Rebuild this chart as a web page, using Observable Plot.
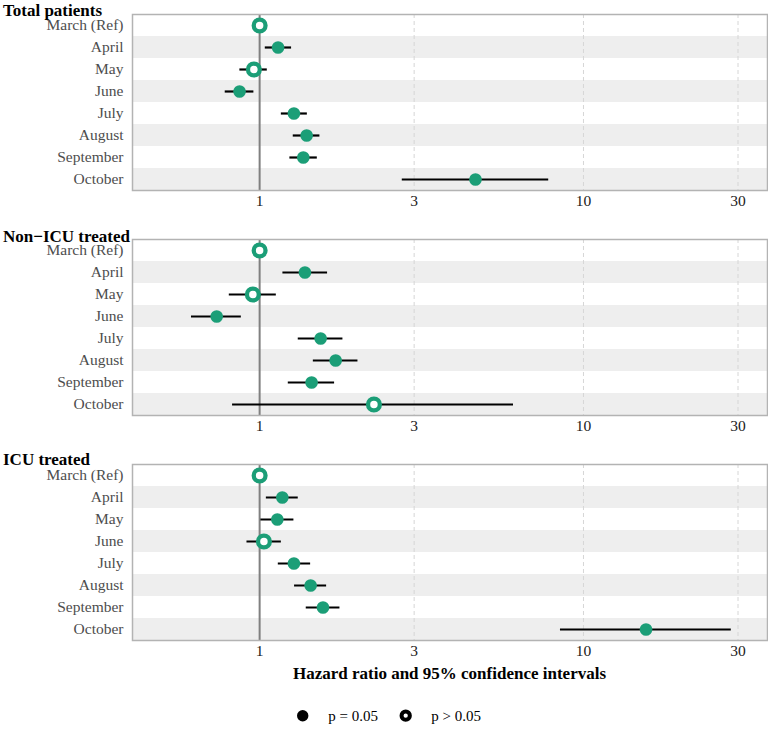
<!DOCTYPE html>
<html><head><meta charset="utf-8">
<script src="https://cdn.jsdelivr.net/npm/d3@7"></script>
<script src="https://cdn.jsdelivr.net/npm/@observablehq/plot@0.6"></script>
<style>
body{margin:0;background:#fff;}
#wrap{position:relative;width:768px;height:731px;font-family:"Liberation Serif","Times New Roman",serif;overflow:hidden;}
.title{position:absolute;left:3px;font-weight:bold;font-size:17px;line-height:17px;color:#000;white-space:nowrap;}
.panel{position:absolute;left:0;}
#xlab{position:absolute;left:0;width:899px;text-align:center;font-weight:bold;font-size:17px;line-height:17px;color:#000;white-space:nowrap;}
#legend{position:absolute;left:0;top:700px;}
</style></head><body><div id="wrap"></div>
<script>
const months = ["March (Ref)","April","May","June","July","August","September","October"];
const panelTitles = ["Total patients","Non\u2212ICU treated","ICU treated"];
const xTicks = [1,3,10,30];

// Total patients
const totalHR  = [1, 1.14, 0.96, 0.867, 1.276, 1.397, 1.364, 4.64];
const totalLo  = [null, 1.041, 0.869, 0.783, 1.167, 1.270, 1.240, 2.757];
const totalHi  = [null, 1.255, 1.056, 0.960, 1.404, 1.535, 1.507, 7.81];
const totalSig = [false, true, false, true, true, true, true, true];

// Non-ICU treated
const nonIcuHR  = [1, 1.380, 0.953, 0.737, 1.543, 1.717, 1.447, 2.254];
const nonIcuLo  = [null, 1.180, 0.806, 0.616, 1.316, 1.465, 1.226, 0.825];
const nonIcuHi  = [null, 1.621, 1.126, 0.878, 1.808, 2.012, 1.704, 6.08];
const nonIcuSig = [false, true, false, true, true, true, true, false];

// ICU treated
const icuHR  = [1, 1.175, 1.134, 1.031, 1.276, 1.437, 1.569, 15.6];
const icuLo  = [null, 1.049, 1.009, 0.914, 1.142, 1.282, 1.393, 8.49];
const icuHi  = [null, 1.316, 1.276, 1.167, 1.437, 1.610, 1.770, 28.6];
const icuSig = [false, true, true, false, true, true, true, true];

const series = [
  [totalHR, totalLo, totalHi, totalSig],
  [nonIcuHR, nonIcuLo, nonIcuHi, nonIcuSig],
  [icuHR, icuLo, icuHi, icuSig]
];

const green = "#1b9e77";
const wrap = document.getElementById("wrap");
const svgTops = [0, 225, 450];
const titleTops = [1.5, 227.5, 451];

series.forEach(([hr, lo, hi, sig], p) => {
  const rows = months.map((m, i) => ({month: m, idx: i, hr: hr[i], lo: lo[i], hi: hi[i], sig: sig[i]}));
  const shaded = rows.filter(d => d.idx % 2 === 1);
  const ci = rows.filter(d => d.lo != null);
  const chart = Plot.plot({
    width: 768,
    height: 220,
    marginTop: 14,
    marginBottom: 30,
    marginLeft: 132,
    marginRight: 1,
    style: {fontFamily: "'Liberation Serif', 'Times New Roman', serif", background: "transparent"},
    x: {type: "log", domain: [0.405, 37], label: null},
    y: {type: "band", domain: months, padding: 0, label: null},
    marks: [
      Plot.cell(shaded, {y: "month", fill: "#eeeeee", inset: 0}),
      Plot.ruleX(xTicks.slice(1), {stroke: "#d6d6d6", strokeWidth: 1, strokeDasharray: "4,3"}),
      Plot.ruleX([1], {stroke: "#808080", strokeWidth: 2}),
      Plot.frame({stroke: "#b3b3b3", strokeWidth: 1.5}),
      Plot.ruleY(ci, {y: "month", x1: "lo", x2: "hi", stroke: "#000", strokeWidth: 2.2}),
      Plot.dot(rows.filter(d => d.sig), {x: "hr", y: "month", r: 6.3, fill: green, stroke: "none"}),
      Plot.dot(rows.filter(d => !d.sig), {x: "hr", y: "month", r: 5.9, fill: "#fff", stroke: green, strokeWidth: 4.3}),
      Plot.axisY({tickSize: 0, tickPadding: 9, fontSize: 15.5, color: "#4d4d4d", label: null}),
      Plot.axisX(xTicks, {tickSize: 0, tickPadding: 4.5, fontSize: 15.5, color: "#1a1a1a", tickFormat: d => String(d), label: null})
    ]
  });
  const div = document.createElement("div");
  div.className = "panel";
  div.style.top = svgTops[p] + "px";
  div.appendChild(chart);
  wrap.appendChild(div);
  const t = document.createElement("div");
  t.className = "title";
  t.style.top = titleTops[p] + "px";
  t.textContent = panelTitles[p];
  wrap.appendChild(t);
});

const xl = document.createElement("div");
xl.id = "xlab";
xl.style.top = "664.7px";
xl.textContent = "Hazard ratio and 95% confidence intervals";
wrap.appendChild(xl);

// legend
const legendItems = [{label: "p = 0.05", sig: true}, {label: "p > 0.05", sig: false}];
const ns = "http://www.w3.org/2000/svg";
const lg = document.createElementNS(ns, "svg");
lg.setAttribute("width", 768); lg.setAttribute("height", 31);
lg.id = "legend";
const lx = [302.7, 405.7];
legendItems.forEach((it, i) => {
  const c = document.createElementNS(ns, "circle");
  c.setAttribute("cx", lx[i]); c.setAttribute("cy", 15.7);
  if (it.sig) { c.setAttribute("r", 5.7); c.setAttribute("fill", "#000"); }
  else { c.setAttribute("r", 4.15); c.setAttribute("fill", "#fff"); c.setAttribute("stroke", "#000"); c.setAttribute("stroke-width", 4); }
  lg.appendChild(c);
  const tx = document.createElementNS(ns, "text");
  tx.setAttribute("x", lx[i] + 25.5); tx.setAttribute("y", 21.3);
  tx.setAttribute("font-size", "15px");
  tx.setAttribute("font-family", "'Liberation Serif', 'Times New Roman', serif");
  tx.textContent = it.label;
  lg.appendChild(tx);
});
wrap.appendChild(lg);
</script>
</body></html>
